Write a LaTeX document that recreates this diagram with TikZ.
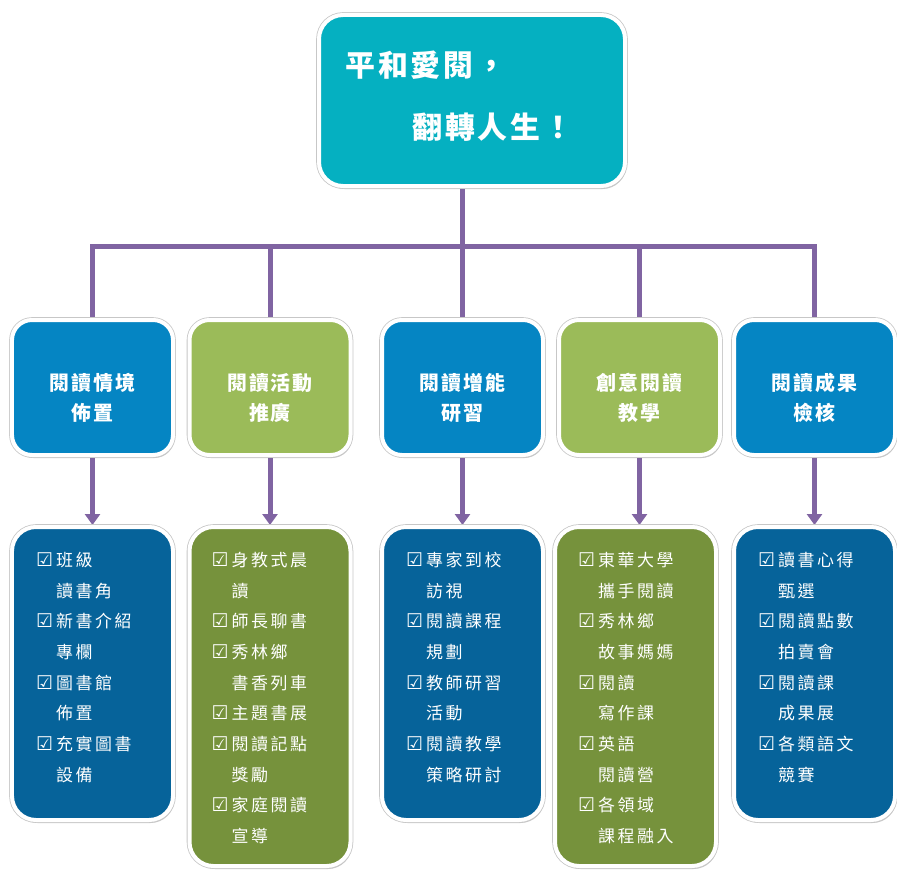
\documentclass[tikz,border=0pt]{standalone}
\usepackage{fontspec}
\newfontfamily\cjkT[LetterSpace=10]{Noto Sans CJK TC}
\newfontfamily\cjkS[LetterSpace=10]{Noto Sans CJK TC}
\newfontfamily\cjkL[LetterSpace=15]{Noto Sans CJK TC}
\newfontfamily\symf{DejaVu Sans}
\usetikzlibrary{shadows,arrows.meta,backgrounds}
\definecolor{cTop}{HTML}{05B0C1}
\definecolor{cBlueA}{HTML}{0585C3}
\definecolor{cGreenA}{HTML}{9BBB59}
\definecolor{cBlueB}{HTML}{06639A}
\definecolor{cGreenB}{HTML}{76923C}
\definecolor{cLine}{HTML}{8064A2}
\newcommand\ckb{\makebox[20bp][l]{\symf\fontsize{19}{19}\selectfont ☑}}
\newcommand\indb{\makebox[20bp]{}}
\begin{document}
\begin{tikzpicture}[x=1bp,y=-1bp,
  anybox/.style={rectangle, draw=white, line width=4bp, inner sep=0,
    drop shadow={shadow xshift=1.5bp, shadow yshift=-3bp, opacity=0.35, fill=black!60},
    preaction={draw=black!22, line width=5.6bp}},
  topbox/.style={anybox, rounded corners=24bp, fill=cTop, minimum width=306bp, minimum height=171bp},
  ltwo/.style={anybox, rounded corners=20bp, minimum width=161bp, minimum height=135bp},
  lthree/.style={anybox, rounded corners=24bp, minimum width=161bp},
  ttl/.style={text=white, inner sep=0, font=\cjkT\bfseries\fontsize{30}{36}\selectfont},
  ltwotxt/.style={text=white, inner sep=0, align=center, font=\cjkS\bfseries\fontsize{20}{30}\selectfont},
  lthreetxt/.style={text=white, inner sep=0, align=left, anchor=north west, font=\cjkL\fontsize{17}{30.8}\selectfont},
  conn/.style={draw=cLine, line width=5bp, line join=miter},
  arr/.style={conn, -{Triangle[width=15bp,length=11bp]}}
]
\useasboundingbox (0,0) rectangle (897,870);

% top box
\node[topbox] (top) at (472,100.5) {};
\node[ttl, anchor=west] (t1) at (345,65) {平和愛閱，};
\node[ttl, anchor=west] (t2) at (412,127) {翻轉人生！};

% level 2
\node[ltwo, fill=cBlueA]  (ba) at (92.5,387.5) {};
\node[ltwo, fill=cGreenA] (bb) at (270,387.5) {};
\node[ltwo, fill=cBlueA]  (bc) at (462.5,387.5) {};
\node[ltwo, fill=cGreenA] (bd) at (639.5,387.5) {};
\node[ltwo, fill=cBlueA]  (be) at (814.5,387.5) {};
\node[ltwotxt] (ta) at ([yshift=-10.5bp]ba.center) {閱讀情境\\佈置};
\node[ltwotxt] (tb) at ([yshift=-10.5bp]bb.center) {閱讀活動\\推廣};
\node[ltwotxt] (tc) at ([yshift=-10.5bp]bc.center) {閱讀增能\\研習};
\node[ltwotxt] (td) at ([yshift=-10.5bp]bd.center) {創意閱讀\\教學};
\node[ltwotxt] (te) at ([yshift=-10.5bp]be.center) {閱讀成果\\檢核};

% level 3
\node[lthree, fill=cBlueB,  minimum height=293bp] (ca) at (92.5,673.5) {};
\node[lthree, fill=cGreenB, minimum height=339bp] (cb) at (270,696.5) {};
\node[lthree, fill=cBlueB,  minimum height=293bp] (cc) at (462.5,673.5) {};
\node[lthree, fill=cGreenB, minimum height=339bp] (cd) at (635.5,696.5) {};
\node[lthree, fill=cBlueB,  minimum height=293bp] (ce) at (814.5,673.5) {};

\node[lthreetxt] (xa) at ([xshift=26bp,yshift=-27bp]ca.north west)
  {\ckb 班級\\\indb 讀書角\\\ckb 新書介紹\\\indb 專欄\\\ckb 圖書館\\\indb 佈置\\\ckb 充實圖書\\\indb 設備};
\node[lthreetxt] (xb) at ([xshift=24bp,yshift=-27bp]cb.north west)
  {\ckb 身教式晨\\\indb 讀\\\ckb 師長聊書\\\ckb 秀林鄉\\\indb 書香列車\\\ckb 主題書展\\\ckb 閱讀記點\\\indb 獎勵\\\ckb 家庭閱讀\\\indb 宣導};
\node[lthreetxt] (xc) at ([xshift=26bp,yshift=-27bp]cc.north west)
  {\ckb 專家到校\\\indb 訪視\\\ckb 閱讀課程\\\indb 規劃\\\ckb 教師研習\\\indb 活動\\\ckb 閱讀教學\\\indb 策略研討};
\node[lthreetxt] (xd) at ([xshift=25bp,yshift=-27bp]cd.north west)
  {\ckb 東華大學\\\indb 攜手閱讀\\\ckb 秀林鄉\\\indb 故事媽媽\\\ckb 閱讀\\\indb 寫作課\\\ckb 英語\\\indb 閱讀營\\\ckb 各領域\\\indb 課程融入};
\node[lthreetxt] (xe) at ([xshift=26bp,yshift=-27bp]ce.north west)
  {\ckb 讀書心得\\\indb 甄選\\\ckb 閱讀點數\\\indb 拍賣會\\\ckb 閱讀課\\\indb 成果展\\\ckb 各類語文\\\indb 競賽};

% connectors
\coordinate (jn) at (463,246.5);
\begin{scope}[on background layer]
\draw[conn] (ba.north) -- (ba.north |- jn) -- (be.north |- jn) -- (be.north);
\draw[conn] (bc.north |- top.south) -- (bc.north);
\draw[conn] (bb.north) -- (bb.north |- jn);
\draw[conn] (bd.north) -- (bd.north |- jn);
\draw[arr] (ba.south) -- (ba.south |- ca.north);
\draw[arr] (bb.south) -- (bb.south |- cb.north);
\draw[arr] (bc.south) -- (bc.south |- cc.north);
\draw[arr] (bd.south) -- (bd.south |- cd.north);
\draw[arr] (be.south) -- (be.south |- ce.north);
\end{scope}
\end{tikzpicture}
\end{document}
